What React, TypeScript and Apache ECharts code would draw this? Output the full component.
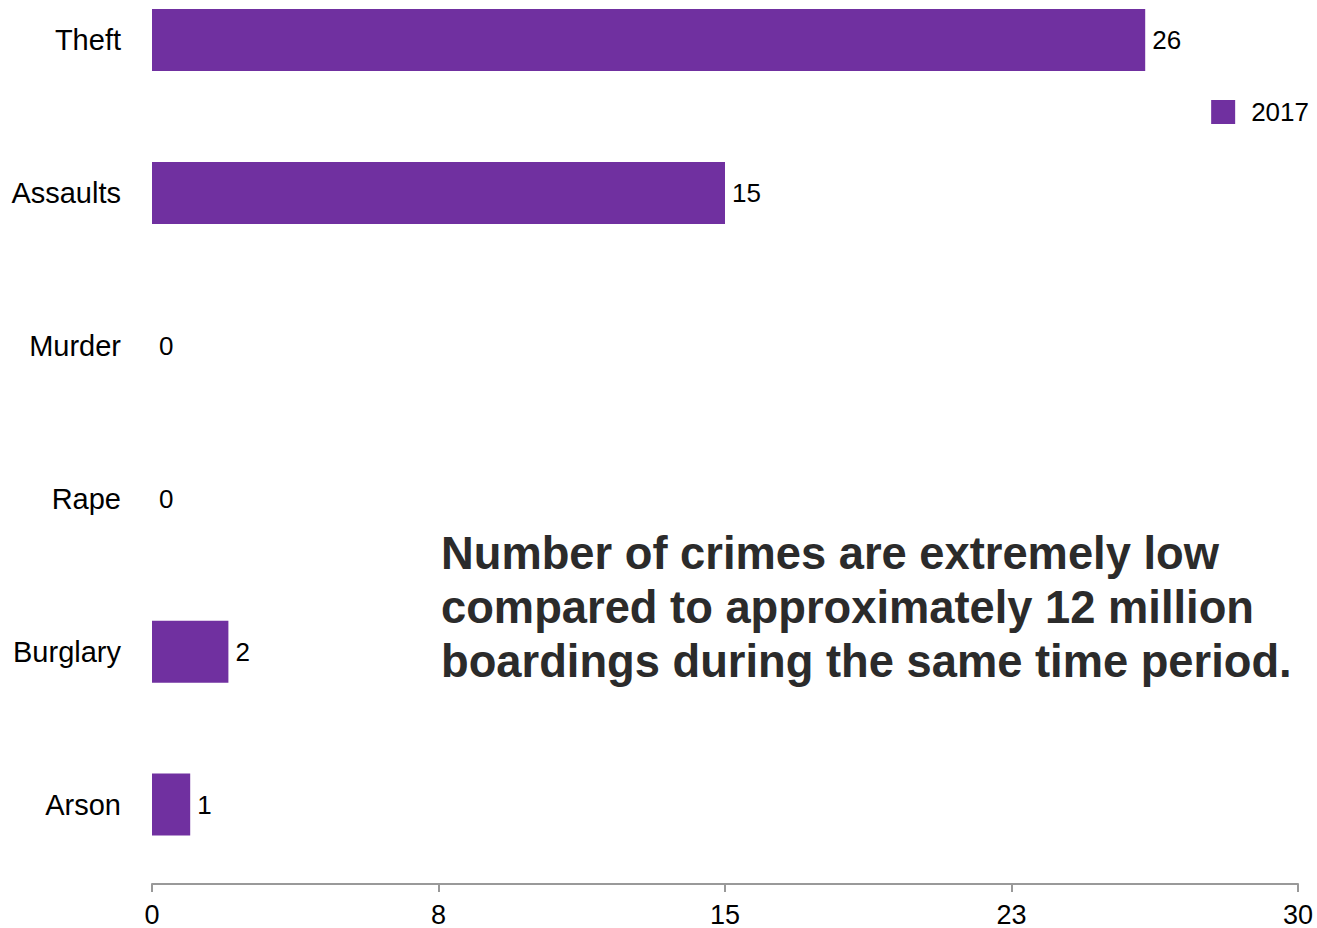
import React, { useEffect, useRef } from "react";
import * as echarts from "echarts";

const categories = ["Theft", "Assaults", "Murder", "Rape", "Burglary", "Arson"];
const values2017 = [26, 15, 0, 0, 2, 1];
const seriesName = "2017";
const axisMin = 0;
const axisMax = 30;
const axisInterval = 7.5;
const noteLines = [
  "Number of crimes are extremely low",
  "compared to approximately 12 million",
  "boardings during the same time period.",
];

const SHIFT = 37;

export default function App() {
  const ref = useRef<HTMLDivElement>(null);
  useEffect(() => {
    document.body.style.margin = "0";
    const chart = echarts.init(ref.current!, null, { renderer: "svg" });
    const font = "'Liberation Sans', Arial, sans-serif";
    chart.setOption({
      animation: false,
      textStyle: { fontFamily: font },
      grid: { left: 152, right: 19, top: 0.5, bottom: 47, containLabel: false },
      legend: {
        data: [seriesName],
        right: 3,
        top: 94 + SHIFT,
        itemWidth: 24,
        itemHeight: 24,
        icon: "rect",
        textStyle: { fontSize: 26, color: "#000", fontFamily: font, padding: [0, 0, 0, 11] },
      },
      xAxis: {
        type: "value",
        min: axisMin,
        max: axisMax,
        interval: axisInterval,
        offset: 3,
        axisLine: { show: true, lineStyle: { color: "#999", width: 2 } },
        axisTick: { show: true, length: 8, lineStyle: { color: "#999", width: 2 } },
        splitLine: { show: false },
        axisLabel: {
          fontSize: 27,
          color: "#000",
          margin: 17,
          fontFamily: font,
          formatter: (v: number) => String(Math.round(v)),
        },
      },
      yAxis: {
        type: "category",
        data: categories,
        inverse: true,
        axisLine: { show: false },
        axisTick: { show: false },
        axisLabel: { fontSize: 29, color: "#000", margin: 31, fontFamily: font },
      },
      series: [
        {
          name: seriesName,
          type: "bar",
          data: values2017,
          barWidth: 62,
          itemStyle: { color: "#7030A0" },
          label: {
            show: true,
            position: "right",
            distance: 7,
            fontSize: 26,
            color: "#000",
            fontFamily: font,
          },
        },
      ],
      graphic: [
        {
          type: "text",
          left: 441,
          top: 526 + SHIFT,
          style: {
            text: noteLines.join("\n"),
            font: `bold 45.3px ${font}`,
            lineHeight: 54,
            fill: "#2b2b2b",
          },
        },
      ],
    });
    return () => chart.dispose();
  }, []);
  return (
    <div style={{ position: "relative", width: 1317, height: 928, overflow: "hidden" }}>
      <div
        ref={ref}
        style={{ position: "absolute", left: 0, top: -SHIFT, width: 1317, height: 928 + SHIFT }}
      />
    </div>
  );
}
